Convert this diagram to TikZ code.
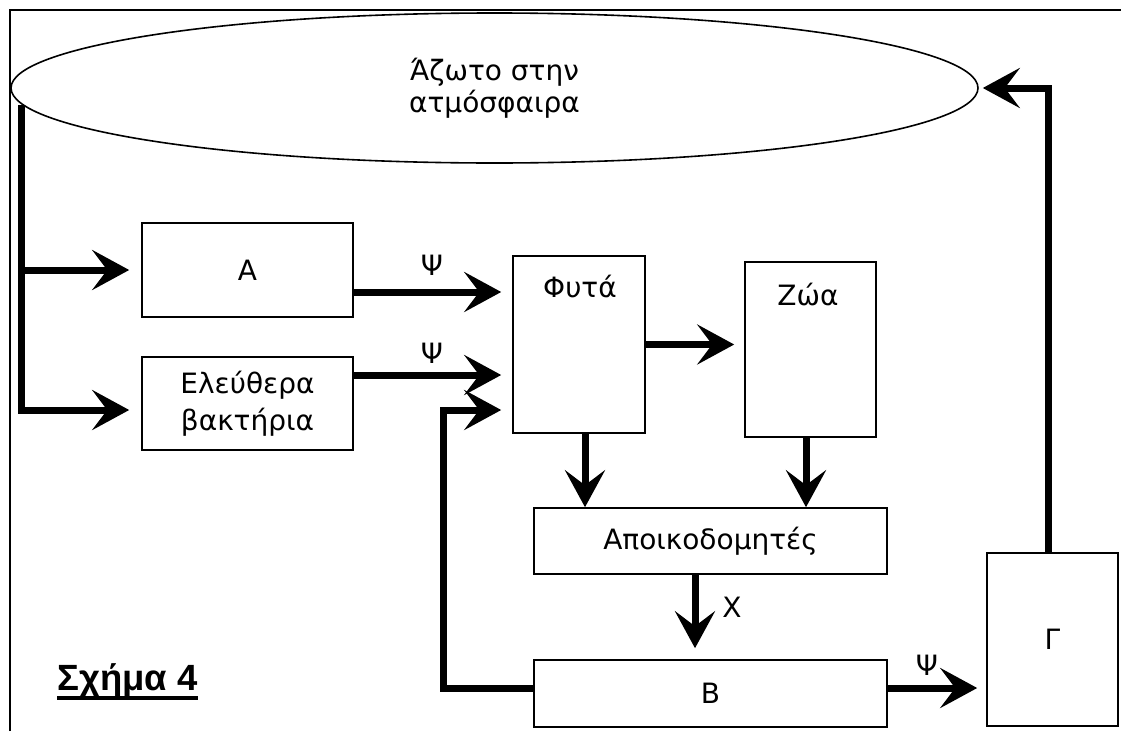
\documentclass[tikz,border=0pt]{standalone}
\usepackage{fontspec}
\setmainfont{DejaVu Sans}
\newfontfamily\sxfont{Liberation Sans}
\usetikzlibrary{shapes.geometric, arrows.meta, calc}
\tikzstyle{box} = [rectangle, draw=black, line width=1.6pt, inner sep=0pt, text centered, font=\fontsize{28}{37}\selectfont]
\tikzstyle{lbl} = [inner sep=0pt, font=\fontsize{28}{32}\selectfont]
\tikzstyle{arrow} = [line width=7pt, -{Stealth[length=37pt, width=40pt, inset=15pt]}]

\begin{document}
\begin{tikzpicture}[x=1pt, y=-1pt]
          \useasboundingbox (0,0) rectangle (1121,731);
          \draw [line width=1.6pt] (10,731) -- (10,10) -- (1121,10);
          \node (azoto) [ellipse, draw=black, line width=1.6pt, minimum width=967pt, minimum height=150pt, inner sep=0pt, align=center, font=\fontsize{28}{32}\selectfont] at (494.5,88) {Άζωτο στην\\ατμόσφαιρα};
          \node (A) [box, minimum width=211pt, minimum height=94pt] at (247.5,270) {Α};
          \node (eleuth) [box, minimum width=211pt, minimum height=93pt, align=center] at (247.5,403.5) {Ελεύθερα\\βακτήρια};
          \node (fyta) [box, minimum width=132pt, minimum height=177pt] at (579,344.5) {};
          \node (fytatxt) [lbl] at (580,287) {Φυτά};
          \node (zoa) [box, minimum width=131pt, minimum height=175pt] at (810.5,349.5) {};
          \node (zoatxt) [lbl] at (808,294) {Ζώα};
          \node (apoik) [box, minimum width=353pt, minimum height=66pt] at (710.5,541) {Αποικοδομητές};
          \node (B) [box, minimum width=353pt, minimum height=67pt] at (710.5,693.5) {Β};
          \node (G) [box, minimum width=131pt, minimum height=173pt] at (1052.5,639.5) {Γ};
          \coordinate (korm) at (21,105);
          \coordinate (dA) at ($(A.east)+(0,22)$);
          \coordinate (dE) at ($(eleuth.east)+(0,-28.5)$);
          \coordinate (dB) at ($(B.west)+(0,-5.5)$);
          \coordinate (anak) at (443,410);
          \coordinate (dF) at ($(fyta.south)+(6,0)$);
          \coordinate (dZ) at ($(zoa.south)+(-4.5,0)$);
          \coordinate (dX) at ($(apoik.south)+(-15.5,0)$);
          \coordinate (dBG) at ($(B.east)+(0,-5.5)$);
          \coordinate (dG) at ($(G.north)+(-4.5,0)$);
          \draw [arrow, shorten >=12pt] (korm) |- ($(eleuth.west)+(0,6.5)$);
          \draw [arrow, shorten >=12pt] (korm |- A.west) -- (A.west);
          \draw [arrow, shorten >=11pt] (dA) -- (dA -| fyta.west);
          \draw [arrow, shorten >=11pt] (dE) -- (dE -| fyta.west);
          \draw [arrow, shorten >=11pt] (dB) -| (anak) -- (anak -| fyta.west);
          \draw [arrow, shorten >=10pt] (fyta.east) -- (fyta.east -| zoa.west);
          \draw [arrow] (dF) -- (dF |- apoik.north);
          \draw [arrow] (dZ) -- (dZ |- apoik.north);
          \draw [arrow, shorten >=11pt] (dX) -- (dX |- B.north);
          \draw [arrow, shorten >=9pt] (dBG) -- (dBG -| G.west);
          \draw [arrow, shorten >=4pt] (dG) |- (azoto.east);
          \node (psiA) [lbl] at (432,265) {Ψ};
          \node (psiE) [lbl] at (432,353) {Ψ};
          \node (psiB) [lbl] at (927,665) {Ψ};
          \node (chi) [lbl] at (732,607) {Χ};
          \node (sxima) [anchor=base west, inner sep=0pt, font=\sxfont\bfseries\fontsize{36.5}{40}\selectfont] at (57,690) {Σχήμα 4};
          \draw [line width=4pt] ($(sxima.base west)+(0,7.5)$) -- ($(sxima.base east)+(0,7.5)$);
        \end{tikzpicture}
\end{document}
